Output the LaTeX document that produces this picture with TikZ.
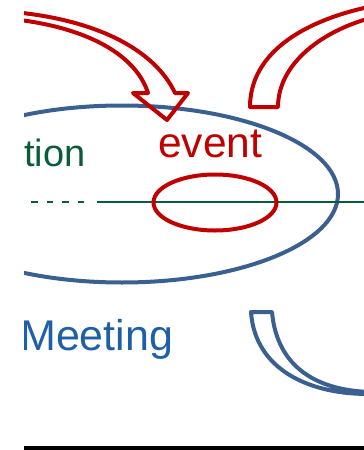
\documentclass[tikz,border=0pt]{standalone}
\usepackage{fontspec}
\setmainfont{Liberation Sans}
\definecolor{myred}{RGB}{192,0,0}
\definecolor{myblue}{RGB}{58,95,145}
\definecolor{textblue}{RGB}{30,95,168}
\definecolor{mygreen}{RGB}{10,92,56}
\begin{document}
\begin{tikzpicture}[x=1pt,y=-1pt,
  redline/.style={draw=myred,line width=4pt,line join=round},
  blueline/.style={draw=myblue,line width=4pt,line join=round},
  greenline/.style={draw=mygreen,line width=2.2pt},
  bigtext/.style={inner sep=0pt,anchor=base west}]
\useasboundingbox (0,0) rectangle (364,450);
\begin{scope}
\clip (24,0) rectangle (364,450);
% big blue ellipse
\draw[blueline] (122,194) ellipse [x radius=216, y radius=88.5];
% green axis
\draw[greenline,dash pattern=on 6.5pt off 9pt] (31,202) -- (84,202);
\draw[greenline] (97,202) -- (370,202);
% red ellipse
\draw[redline] (215,202.5) ellipse [x radius=61.5, y radius=28];
% curved red arrow (top left)
\draw[redline] (0,11) .. controls (95,17) and (155,50) .. (175,93)
  -- (188,93) -- (167,120) -- (133,93) -- (148,93)
  .. controls (135,52) and (80,24) .. (0,18);
% red band (top right)
\draw[redline] (378,5) .. controls (300,20) and (250,55) .. (250,107)
  -- (278,107) .. controls (278,65) and (320,30) .. (378,16);
% blue band (bottom right)
\draw[blueline] (372,394) .. controls (310,395) and (255,370) .. (251,312)
  -- (272,312) .. controls (277,368) and (318,391) .. (372,392);
% texts
\node[bigtext,text=myred,font=\fontsize{42.5}{50}\selectfont] (event) at (158,157) {event};
\node[bigtext,text=mygreen,font=\fontsize{38}{44}\selectfont] (tion) at (24,166) {tion};
\node[bigtext,text=textblue,font=\fontsize{43}{50}\selectfont] (meeting) at (20,350) {Meeting};
% bottom rule
\fill[black] (24,446) rectangle (364,450);
\end{scope}
\end{tikzpicture}
\end{document}
